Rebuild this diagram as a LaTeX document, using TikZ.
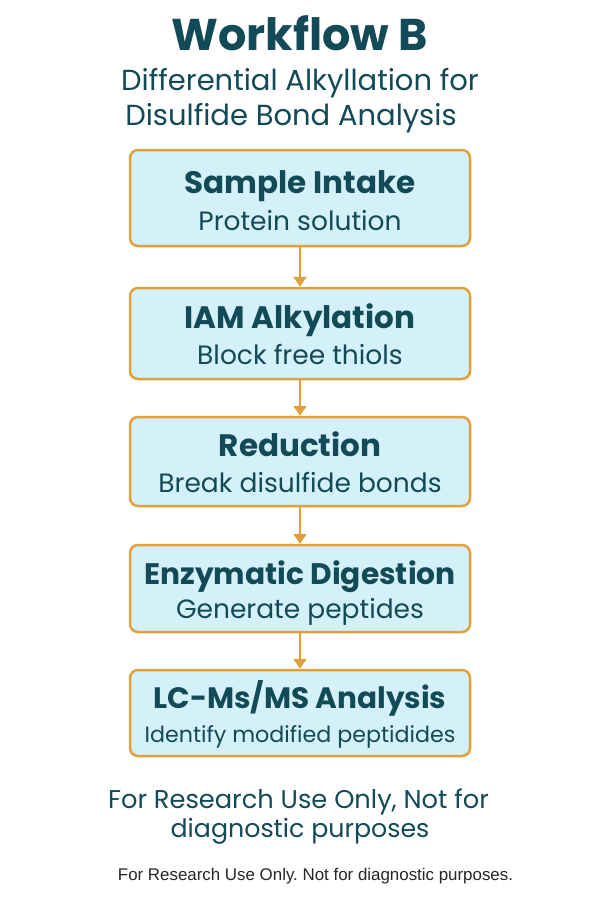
\documentclass[tikz,border=0pt]{standalone}
\usepackage{fontspec}
\setmainfont{Poppins}
\newfontfamily\smallfont{Liberation Sans}
\usetikzlibrary{arrows.meta}
\frenchspacing

\definecolor{inkteal}{HTML}{134A57}
\definecolor{boxfill}{HTML}{D4F1F9}
\definecolor{boxline}{HTML}{E2A03C}

\tikzset{
  stepbox/.style={draw=boxline,fill=boxfill,line width=2.5pt,rounded corners=8pt,
    minimum width=340pt,text=inkteal,align=center},
  flow/.style={draw=boxline,line width=2.3pt,-{Triangle[width=13pt,length=10pt]}},
  steptitle/.style={anchor=base,text=inkteal,font=\fontsize{31}{34}\selectfont\bfseries},
  stepsub/.style={anchor=base,text=inkteal,font=\fontsize{26.5}{30}\selectfont}
}

\begin{document}
\begin{tikzpicture}[x=1pt,y=-1pt]
    \useasboundingbox[fill=white] (0,0) rectangle (600,900);
    % heading
    \node[anchor=base,text=inkteal,font=\fontsize{44.5}{48}\selectfont\bfseries] (title) at (300,50) {Workflow B};
    \node[anchor=base,text=inkteal,font=\fontsize{29}{32}\selectfont] (sub1) at (300,90) {Differential Alkyllation for};
    \node[anchor=base,text=inkteal,font=\fontsize{29}{32}\selectfont] (sub2) at (291,125) {Disulfide Bond Analysis};
    % steps
    \node[stepbox,minimum height=96pt] (intake) at (300,198) {};
    \node[stepbox,minimum height=91pt] (iam) at (300,333.5) {};
    \node[stepbox,minimum height=89pt] (reduce) at (300,461.5) {};
    \node[stepbox,minimum height=87pt] (digest) at (300,588.5) {};
    \node[stepbox,minimum height=86pt] (lcms) at (300,713) {};
    \node[steptitle] (intakeT) at (300,193) {Sample Intake};
    \node[stepsub] (intakeS) at (300,230) {Protein solution};
    \node[steptitle] (iamT) at (300,328) {IAM Alkylation};
    \node[stepsub] (iamS) at (300,364) {Block free thiols};
    \node[steptitle] (reduceT) at (300,456) {Reduction};
    \node[stepsub] (reduceS) at (300,492) {Break disulfide bonds};
    \node[steptitle,font=\fontsize{29.7}{33}\selectfont\bfseries] (digestT) at (300,584) {Enzymatic Digestion};
    \node[stepsub] (digestS) at (300,618) {Generate peptides};
    \node[steptitle,font=\fontsize{29.5}{33}\selectfont\bfseries] (lcmsT) at (300,708) {LC-Ms/MS Analysis};
    \node[stepsub,font=\fontsize{22.2}{26}\selectfont] (lcmsS) at (300,742) {Identify modified peptidides};
    % connectors
    \draw[flow] (intake) -- (iam);
    \draw[flow] (iam) -- (reduce);
    \draw[flow] (reduce) -- (digest);
    \draw[flow] (digest) -- (lcms);
    % footer
    \node[anchor=base,text=inkteal,font=\fontsize{25.7}{29}\selectfont] (note1) at (298.5,808) {For Research Use Only, Not for};
    \node[anchor=base,text=inkteal,font=\fontsize{25.3}{29}\selectfont] (note2) at (300,837) {diagnostic purposes};
    \node[anchor=base,text=black!85,font=\smallfont\fontsize{16.9}{19}\selectfont] (disclaimer) at (315.5,880) {For Research Use Only. Not for diagnostic purposes.};
\end{tikzpicture}
\end{document}
